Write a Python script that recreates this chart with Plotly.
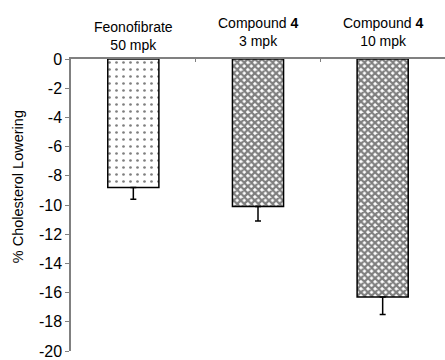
import plotly.graph_objects as go

categories = ["Feonofibrate", "Compound 4 (3 mpk)", "Compound 4 (10 mpk)"]
labels = ["Feonofibrate<br>50 mpk", "Compound <b>4</b><br>3 mpk", "Compound <b>4</b><br>10 mpk"]
label_shift = [4, 8, 8]
values = [-8.8, -10.1, -16.3]
errors_minus = [0.8, 1.0, 1.2]
patterns = [".", "x", "x"]
ytick_vals = [0, -2, -4, -6, -8, -10, -12, -14, -16, -18, -20]
ytick_text = ["0", "-2", "-4", "-6", "-8", "-10", "-12", "-14", "-16", "-18", "-20"]

fig = go.Figure()
fig.add_trace(go.Bar(
    x=categories,
    y=values,
    width=0.41,
    marker=dict(
        color="white",
        line=dict(color="black", width=1.5),
        pattern=dict(shape=patterns, fgcolor="black", bgcolor="white",
                     size=[7, 5, 5], solidity=[0.12, 0.7, 0.7]),
    ),
    error_y=dict(type="data", symmetric=False, array=[0, 0, 0],
                 arrayminus=errors_minus, color="black", thickness=1.5, width=3),
))

for cat, lab, sh in zip(categories, labels, label_shift):
    fig.add_annotation(x=cat, y=1, xref="x", yref="paper", yanchor="bottom",
                       text=lab, showarrow=False, yshift=sh,
                       font=dict(size=14, color="black"))

fig.add_annotation(x=0, xref="paper", xshift=18 - 71, xanchor="center",
                   y=0.561, yref="paper",
                   text="% Cholesterol Lowering", textangle=-90, showarrow=False,
                   font=dict(size=14.5, color="black"))

fig.update_layout(
    width=445, height=360,
    margin=dict(l=71, r=0, t=59, b=7),
    paper_bgcolor="white", plot_bgcolor="white",
    font=dict(family="Liberation Sans, Arial, sans-serif", color="black"),
    showlegend=False,
)
fig.update_xaxes(
    side="top", showline=True, linecolor="#808080", linewidth=1.5,
    ticks="inside", ticklen=3, tickcolor="#808080", tickson="boundaries",
    showticklabels=False, showgrid=False, fixedrange=True,
)
fig.update_yaxes(
    range=[-20, 0], tickvals=ytick_vals, ticktext=ytick_text,
    showline=True, linecolor="#808080", linewidth=1.5,
    ticks="outside", ticklen=4, tickcolor="#808080", showgrid=False, zeroline=False,
    tickfont=dict(size=16), ticklabeloverflow="allow",
)

fig.write_html("out.html")
